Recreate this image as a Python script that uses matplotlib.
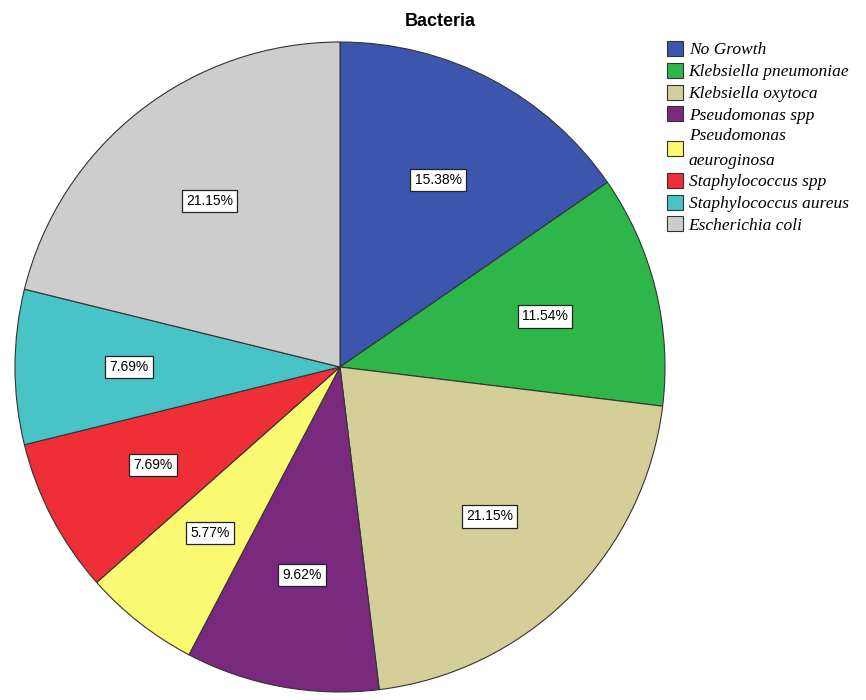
import matplotlib
matplotlib.use("Agg")
import matplotlib.pyplot as plt

# bacteria isolated (percent of 52 samples)
names = ["No Growth", "Klebsiella pneumoniae", "Klebsiella oxytoca", "Pseudomonas spp",
         "Pseudomonas\naeuroginosa", "Staphylococcus spp", "Staphylococcus aureus",
         "Escherichia coli"]
pct = [15.38, 11.54, 21.15, 9.62, 5.77, 7.69, 7.69, 21.15]
colors = ["#3d56ad", "#2fb64a", "#d4cf98", "#79297e", "#fbf872", "#ee2f37",
          "#48c3c6", "#cdcdcd"]

fig = plt.figure(figsize=(8.66, 7.0), dpi=100)
W, H = 866, 700
cx, cy, r = 340, 367, 325
ax = fig.add_axes([(cx - r) / W, (H - cy - r) / H, 2 * r / W, 2 * r / H])

wedges, texts, autotexts = ax.pie(
    pct, colors=colors, startangle=90, counterclock=False,
    autopct=lambda v: "%.2f%%" % v, pctdistance=0.65,
    wedgeprops=dict(edgecolor="#333333", linewidth=0.8))
for t in autotexts:
    t.set_fontsize(10)
    t.set_family("Liberation Sans")
    t.set_bbox(dict(facecolor="white", edgecolor="#222222", linewidth=0.9,
                    boxstyle="square,pad=0.3"))
ax.set_xlim(-1, 1)
ax.set_ylim(-1, 1)
ax.set_aspect("equal")

fig.text(440 / W, 1 - 22 / H, "Bacteria", ha="center", va="center",
         fontsize=13, fontweight="bold", family="Liberation Sans")

leg = fig.legend(wedges, names, loc="upper left", bbox_to_anchor=(660 / W, 1 - 34 / H),
                 frameon=False, prop=dict(family="Liberation Serif", style="italic", size=12.5),
                 handlelength=0.95, handleheight=0.95, handletextpad=0.3,
                 labelspacing=0.25, borderaxespad=0)
for h in leg.legend_handles:
    h.set_edgecolor("#333333")
for t in leg.get_texts():
    t.set_linespacing(1.7)

fig.savefig("out.png", dpi=100)
